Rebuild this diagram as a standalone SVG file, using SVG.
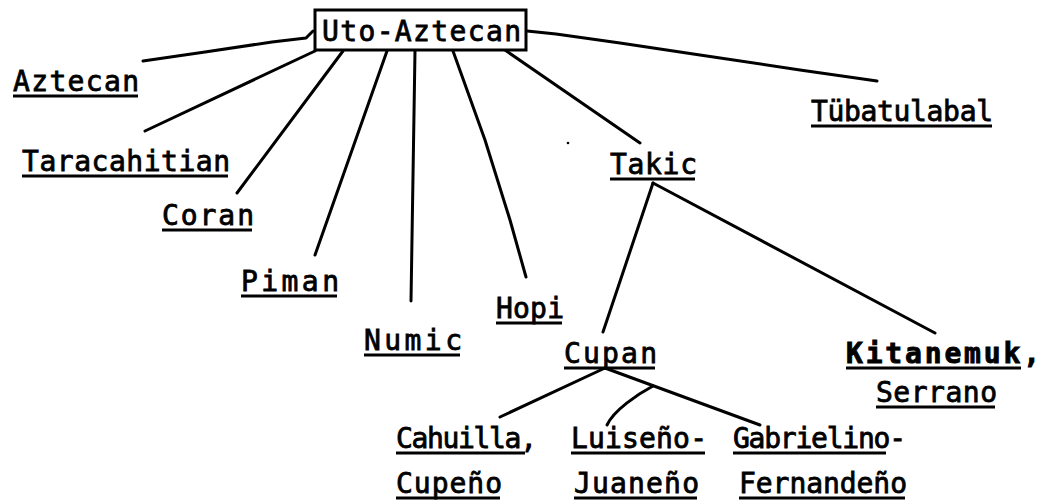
<svg xmlns="http://www.w3.org/2000/svg" width="1045" height="504" viewBox="0 0 1045 504">
<style>
.t{font-family:"DejaVu Sans Mono","Liberation Mono",monospace;font-size:28px;fill:#000;stroke:#000;stroke-width:0.8}
.b{font-weight:bold;stroke-width:0.9}
.u{stroke:#000;stroke-width:3;fill:none}
.c{stroke:#000;stroke-width:3;fill:none;stroke-linecap:round;stroke-linejoin:round}
</style>
<rect width="1045" height="504" fill="#fff"/>
<g id="connectors">
<path class="c" d="M313,31 L306,38 L272,42 L205,52 L143,61"/>
<path class="c" d="M315,51 L145,131"/>
<path class="c" d="M343,51 L237,193"/>
<path class="c" d="M387,51 L315,255"/>
<path class="c" d="M415,51 L411,301"/>
<path class="c" d="M453,51 L485,140 L510,220 L526,277"/>
<path class="c" d="M505,50 L640,143"/>
<path class="c" d="M527,31 L556,34 L620,43 L700,55 L800,70 L877,81"/>
<path class="c" d="M653,183 L603,332"/>
<path class="c" d="M653,183 L935,333"/>
<path class="c" d="M605,368 L500,417"/>
<path class="c" d="M605,368 L760,425"/>
<path class="c" d="M653,386 C638,394 614,410 607,425"/>
</g>
<circle cx="568" cy="143" r="1.3" fill="#000"/>
<g id="uto-aztecan">
<rect x="315" y="10" width="211" height="40" fill="#fff" stroke="#000" stroke-width="3"/>
<text class="t" x="322" y="41" textLength="199">Uto-Aztecan</text>
</g>
<g id="aztecan">
<text class="t" x="13" y="91" textLength="126">Aztecan</text>
<line class="u" x1="13" y1="96" x2="138" y2="96"/>
</g>
<g id="tubatulabal">
<text class="t" x="811" y="121" textLength="182">Tübatulabal</text>
<line class="u" x1="811" y1="126" x2="992" y2="126"/>
</g>
<g id="taracahitian">
<text class="t" x="22" y="171" textLength="208">Taracahitian</text>
<line class="u" x1="22" y1="176" x2="228" y2="176"/>
</g>
<g id="coran">
<text class="t" x="162" y="225" textLength="92">Coran</text>
<line class="u" x1="162" y1="230" x2="252" y2="230"/>
</g>
<g id="piman">
<text class="t" x="241" y="291" textLength="98">Piman</text>
<line class="u" x1="241" y1="296" x2="337" y2="296"/>
</g>
<g id="numic">
<text class="t" x="364" y="350" textLength="98">Numic</text>
<line class="u" x1="364" y1="355" x2="460" y2="355"/>
</g>
<g id="hopi">
<text class="t" x="496" y="318" textLength="68">Hopi</text>
<line class="u" x1="496" y1="323" x2="562" y2="323"/>
</g>
<g id="takic">
<text class="t" x="610" y="174" textLength="87">Takic</text>
<line class="u" x1="610" y1="179" x2="695" y2="179"/>
</g>
<g id="cupan">
<text class="t" x="564" y="363" textLength="93">Cupan</text>
<line class="u" x1="564" y1="368" x2="655" y2="368"/>
</g>
<g id="kitanemuk-serrano">
<text class="t b" x="846" y="363" textLength="194">Kitanemuk,</text>
<line class="u" x1="846" y1="368" x2="1021" y2="368"/>
<text class="t" x="876" y="402" textLength="121">Serrano</text>
<line class="u" x1="876" y1="407" x2="995" y2="407"/>
</g>
<g id="cahuilla-cupeno">
<text class="t" x="396" y="448" textLength="141">Cahuilla,</text>
<line class="u" x1="396" y1="453" x2="525" y2="453"/>
<text class="t" x="396" y="493" textLength="106">Cupeño</text>
<line class="u" x1="396" y1="498" x2="500" y2="498"/>
</g>
<g id="luiseno-juaneno">
<text class="t" x="571" y="448" textLength="136">Luiseño-</text>
<line class="u" x1="571" y1="453" x2="705" y2="453"/>
<text class="t" x="574" y="493" textLength="125">Juaneño</text>
<line class="u" x1="574" y1="498" x2="697" y2="498"/>
</g>
<g id="gabrielino-fernandeno">
<text class="t" x="733" y="448" textLength="173">Gabrielino-</text>
<line class="u" x1="733" y1="453" x2="886" y2="453"/>
<text class="t" x="739" y="493" textLength="168">Fernandeño</text>
<line class="u" x1="739" y1="498" x2="905" y2="498"/>
</g>
</svg>
